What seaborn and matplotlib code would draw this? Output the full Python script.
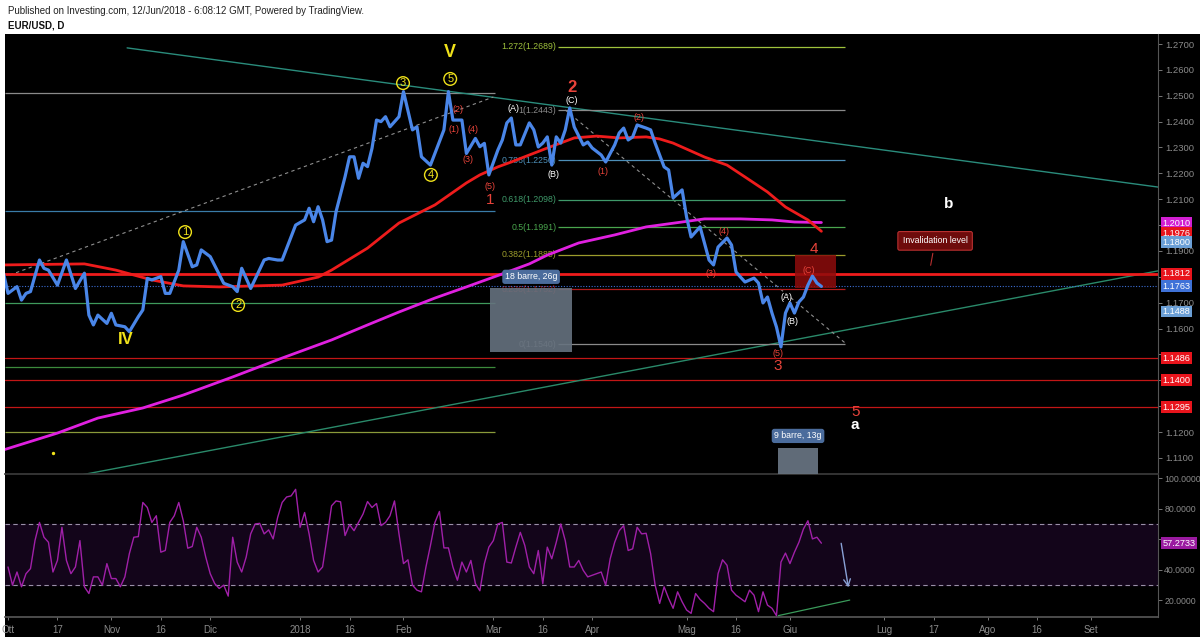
import numpy as np
import pandas as pd
import matplotlib
matplotlib.use("Agg")
import matplotlib.pyplot as plt
import matplotlib.transforms as mtrans
from matplotlib.patches import Rectangle
import seaborn as sns

sns.set_theme(style="dark")
plt.rcParams['font.family'] = ['Liberation Sans', 'DejaVu Sans']

# ---------------- data (bar index 0 = 2 Oct 2017, daily bars) ----------------
price_bar = [-1, 0, 2, 3, 4, 5, 7, 8, 9, 11, 13, 15, 17, 18, 19, 20, 22, 23, 24, 26, 27, 29, 30,
             31, 32, 34, 35, 36, 38, 39, 41, 42, 43, 45, 48, 50, 51, 52, 54, 57, 58, 60, 61, 64,
             66, 67, 68, 69, 70, 71, 72, 73, 75, 76, 77, 78, 79, 80, 81, 82, 83, 84, 85, 87, 88,
             90, 91, 92, 94, 97, 98, 99, 101, 102, 104, 105, 106, 107, 109, 110, 111, 112, 113,
             114, 116, 117, 118, 119, 120, 121, 122, 123, 124, 125, 126, 128, 129, 130, 132, 133,
             135, 136, 137, 138, 139, 140, 142, 143, 144, 146, 147, 148, 150, 151, 152, 154, 156,
             157, 158, 160, 161, 162, 163, 164, 166, 167, 168, 169, 170, 171, 172, 173, 174, 175,
             176, 177, 178, 179, 180, 181]
price_close = [1.1814, 1.1736, 1.1762, 1.1710, 1.1736, 1.1743, 1.1865, 1.1833, 1.1826, 1.1768,
               1.1865, 1.1755, 1.1814, 1.1652, 1.1614, 1.1652, 1.1620, 1.1659, 1.1614, 1.1607,
               1.1588, 1.1646, 1.1672, 1.1794, 1.1788, 1.1801, 1.1736, 1.1736, 1.1826, 1.1936,
               1.1839, 1.1846, 1.1904, 1.1878, 1.1775, 1.1762, 1.1743, 1.1833, 1.1755, 1.1865,
               1.1871, 1.1865, 1.1865, 1.2000, 1.2020, 1.2065, 1.2013, 1.2071, 1.2020, 1.1936,
               1.1942, 1.2052, 1.2187, 1.2264, 1.2264, 1.2181, 1.2239, 1.2226, 1.2297, 1.2406,
               1.2400, 1.2419, 1.2380, 1.2419, 1.2516, 1.2368, 1.2380, 1.2264, 1.2232, 1.2368,
               1.2516, 1.2406, 1.2406, 1.2277, 1.2335, 1.2303, 1.2316, 1.2194, 1.2290, 1.2329,
               1.2395, 1.2414, 1.2310, 1.2310, 1.2395, 1.2368, 1.2302, 1.2317, 1.2341, 1.2232,
               1.2341, 1.2317, 1.2368, 1.2453, 1.2379, 1.2310, 1.2321, 1.2298, 1.2271, 1.2244,
               1.2310, 1.2356, 1.2375, 1.2329, 1.2341, 1.2387, 1.2375, 1.2368, 1.2317, 1.2225,
               1.2213, 1.2105, 1.2136, 1.2031, 1.1954, 1.1993, 1.1865, 1.1846, 1.1915, 1.1950,
               1.1923, 1.1819, 1.1799, 1.1780, 1.1795, 1.1776, 1.1699, 1.1722, 1.1660, 1.1606,
               1.1529, 1.1660, 1.1699, 1.1660, 1.1703, 1.1722, 1.1768, 1.1803, 1.1776, 1.1763]

ma100_bar = [-1, 17, 24, 32, 39, 47, 61, 69, 72, 80, 87, 95, 102, 105, 109, 112, 120, 126, 131,
             136, 142, 145, 148, 155, 160, 164, 169, 173, 178, 181]
ma100 = [1.1846, 1.1850, 1.1826, 1.1788, 1.1765, 1.1761, 1.1768, 1.1799, 1.1826, 1.1911, 1.2008,
         1.2078, 1.2163, 1.2194, 1.2225, 1.2244, 1.2298, 1.2337, 1.2344, 1.2337, 1.2341, 1.2333,
         1.2317, 1.2263, 1.2232, 1.2186, 1.2128, 1.2070, 1.2020, 1.1976]

ma200_bar = [-1, 11, 20, 30, 39, 50, 61, 72, 80, 87, 95, 102, 109, 116, 120, 127, 135, 142, 150,
             155, 163, 170, 175, 181]
ma200 = [1.1131, 1.1196, 1.1254, 1.1293, 1.1343, 1.1413, 1.1486, 1.1556, 1.1614, 1.1664, 1.1718,
         1.1761, 1.1805, 1.1850, 1.1884, 1.1931, 1.1962, 1.1993, 1.2012, 1.2024, 1.2024, 1.2020,
         1.2012, 1.2010]

rsi_bar = list(range(0, 130)) + list(range(132, 182))
rsi_vals = [41.7, 29.8, 38.4, 28.7, 37.3, 40.6, 59.0, 70.9, 61.2, 57.9, 38.4, 46.0, 67.7, 46.0,
            37.3, 41.7, 59.0, 28.7, 24.3, 35.2, 35.2, 29.8, 43.9, 34.1, 34.1, 28.7, 35.2, 50.4,
            61.2, 61.6, 84.0, 80.7, 70.9, 75.3, 51.4, 52.5, 70.9, 75.3, 84.0, 72.0, 54.0, 55.1,
            67.7, 61.2, 48.2, 37.3, 30.8, 27.6, 29.8, 22.6, 61.2, 44.9, 38.4, 48.2, 63.4, 69.9,
            70.3, 63.4, 66.0, 60.1, 74.2, 84.0, 87.6, 88.3, 92.6, 67.7, 77.4, 63.4, 46.0, 38.4,
            41.7, 61.2, 81.8, 85.0, 84.4, 62.3, 69.4, 65.5, 70.9, 76.4, 84.6, 80.7, 83.3, 68.8,
            70.9, 75.3, 85.0, 63.4, 43.9, 46.4, 29.8, 26.5, 25.4, 41.7, 55.8, 70.9, 78.1, 54.2,
            54.2, 41.7, 33.0, 44.9, 38.4, 46.0, 30.8, 26.1, 43.9, 54.7, 59.0, 69.9, 70.9, 44.9,
            44.3, 54.7, 64.4, 55.8, 41.7, 37.3, 52.5, 30.8, 54.7, 47.1, 57.9, 69.9, 59.0, 41.7,
            41.7, 46.0, 39.5, 35.2,
            38.4, 29.8, 47.1, 57.9, 65.5, 68.8, 52.5, 53.6, 67.7, 63.4, 63.8, 50.4, 29.8, 17.8,
            28.7, 21.1, 14.6, 25.4, 18.9, 13.5, 11.3, 24.3, 20.4, 17.8, 14.6, 12.4, 37.3, 46.4,
            42.8, 26.5, 23.2, 21.1, 18.9, 26.5, 23.2, 12.4, 25.4, 16.7, 14.6, 9.8, 44.9, 50.8,
            43.9, 51.4, 57.9, 66.6, 72.0, 60.1, 61.2, 57.3]

tick_bars = [0, 11, 23, 34, 45, 65, 76, 88, 108, 119, 130, 151, 162, 174, 195, 206, 218, 229, 241]
tick_labels = ["Ott", "17", "Nov", "16", "Dic", "2018", "16", "Feb", "Mar", "16", "Apr", "Mag",
               "16", "Giu", "Lug", "17", "Ago", "16", "Set"]

price_ticks = [1.11, 1.12, 1.13, 1.14, 1.15, 1.16, 1.17, 1.18, 1.19, 1.20, 1.21, 1.22, 1.23,
               1.24, 1.25, 1.26, 1.27]
# labels hidden behind price tags in the original are left blank
price_tick_labels = ["1.1100", "1.1200", "", "", "", "1.1600", "1.1700", "", "1.1900", "",
                     "1.2100", "1.2200", "1.2300", "1.2400", "1.2500", "1.2600", "1.2700"]
rsi_ticks = [20, 40, 60, 80, 100]
rsi_tick_labels = ["20.0000", "40.0000", "", "80.0000", "100.0000"]

fib_ratios = ["1.272", "1", "0.786", "0.618", "0.5", "0.382", "0.236", "0"]
fib_prices = [1.2689, 1.2443, 1.2250, 1.2098, 1.1991, 1.1885, 1.1752, 1.1540]
fib_colors = ["#9fc23c", "#8a8a8a", "#4d8fb8", "#3f9a6a", "#4aa64e", "#9c9c2c", "#b01c1c", "#8a8a8a"]

left_levels = [1.2510, 1.2054, 1.1699, 1.1451, 1.1200]
left_colors = ["#8a8a8a", "#3a7ca8", "#3f9a5c", "#3c8a3c", "#8a9a3a"]
red_levels = [1.1486, 1.1400, 1.1295]
invalidation = 1.1812
last_price = 1.1763
rsi_last = 57.2733

XMIN, XMAX = -0.67, 255.9
PMIN, PMAX = 1.10378, 1.27387
RMIN, RMAX = 8.9, 102.0

BLUE = "#4a86e8"
RED = "#ee1c1c"
MAG = "#e020e0"
YEL = "#f0e21a"
SRED = "#e8433a"

fig = plt.figure(figsize=(12, 6.4), dpi=100, facecolor="white")
fig.patches.append(Rectangle((5 / 1200, 3 / 640), 1195 / 1200, 603 / 640,
                             transform=fig.transFigure, facecolor="black", edgecolor="none",
                             zorder=-10))
fig.text(8 / 1200, 1 - 11 / 640, "Published on Investing.com, 12/Jun/2018 - 6:08:12 GMT, Powered by TradingView.",
         fontsize=7, color="#222222", va="center", ha="left")
fig.text(8 / 1200, 1 - 26 / 640, "EUR/USD, D", fontsize=7, color="#111111", va="center",
         ha="left", fontweight="bold")

ax = fig.add_axes([5 / 1200, 1 - 474 / 640, 1153 / 1200, 440 / 640])
axr = fig.add_axes([5 / 1200, 1 - 617 / 640, 1153 / 1200, 142 / 640])

for a in (ax, axr):
    a.set_facecolor("black")
    a.set_xlim(XMIN, XMAX)
    a.grid(False)
    for s in a.spines.values():
        s.set_visible(False)
    a.spines["right"].set_visible(True)
    a.spines["right"].set_color("#555555")
    a.spines["right"].set_linewidth(0.8)
    a.yaxis.tick_right()
    a.tick_params(axis="y", colors="#8a8a8a", labelsize=6.8, length=3, width=0.6, pad=2,
                  direction="out", right=True, left=False)
axr.tick_params(axis="y", labelsize=6.3, pad=1.5)
ax.spines["bottom"].set_visible(True)
ax.spines["bottom"].set_color("#3a3a3a")
axr.spines["bottom"].set_visible(True)
axr.spines["bottom"].set_color("#555555")

ax.set_ylim(PMIN, PMAX)
axr.set_ylim(RMIN, RMAX)

# ---------------- price pane ----------------
for lv, c in zip(left_levels, left_colors):
    ax.hlines(lv, XMIN, 108.4, color=c, lw=0.9, zorder=1)
for lv in red_levels:
    ax.axhline(lv, color="#c21616", lw=0.9, zorder=1)
ax.axhline(invalidation, color=RED, lw=2.0, zorder=2)
ax.axhline(last_price, color="#3d6fd6", lw=0.8, ls=(0, (1, 1.5)), zorder=2)

ax.plot([26.5, 255.9], [1.2685, 1.2147], color="#2a8c7c", lw=1.0, zorder=1)
ax.plot([15.0, 255.9], [1.1030, 1.1823], color="#2a8a6a", lw=1.0, zorder=1)
ax.plot([0.4, 108.0], [1.1807, 1.2495], color="#8f8f8f", lw=0.8, ls=(0, (3, 3)), zorder=1)
ax.plot([124.0, 186.3], [1.2445, 1.1544], color="#8f8f8f", lw=0.8, ls=(0, (3, 3)), zorder=1)

for r, p, c in zip(fib_ratios, fib_prices, fib_colors):
    ax.hlines(p, 122.4, 186.2, color=c, lw=0.9, zorder=1)
    ax.text(122.0, p, f"{r}({p:.4f})", color=c, fontsize=6.3, ha="right", va="center", zorder=1)

ax.add_patch(Rectangle((107.3, 1.1509), 18.2, 1.1757 - 1.1509, facecolor="#66727f",
                       edgecolor="none", alpha=0.9, zorder=3))
ax.text(116.4, 1.1800, "18 barre, 26g", color="white", fontsize=6.3, ha="center", va="center",
        zorder=6, bbox=dict(boxstyle="round,pad=0.3,rounding_size=0.3", fc="#4b6c9c", ec="none"))
ax.add_patch(Rectangle((171.3, PMIN), 8.9, 1.1138 - PMIN, facecolor="#66727f",
                       edgecolor="none", alpha=0.95, zorder=3))
ax.text(175.8, 1.1185, "9 barre, 13g", color="white", fontsize=6.3, ha="center", va="center",
        zorder=6, bbox=dict(boxstyle="round,pad=0.3,rounding_size=0.3", fc="#4b6c9c", ec="none"))
ax.add_patch(Rectangle((175.1, 1.1757), 9.1, 1.1885 - 1.1757, facecolor="#8e0c0c",
                       edgecolor="none", alpha=0.85, zorder=3))

sns.lineplot(x=ma200_bar, y=ma200, ax=ax, color=MAG, lw=2.0, zorder=4, legend=False)
sns.lineplot(x=ma100_bar, y=ma100, ax=ax, color=RED, lw=2.0, zorder=4, legend=False)
sns.lineplot(x=price_bar, y=price_close, ax=ax, color=BLUE, lw=2.3, zorder=5, legend=False)

def lab(x, y, s, c, size=6.5, bold=False):
    ax.text(x, y, s, color=c, fontsize=size, ha="center", va="center",
            fontweight="bold" if bold else "normal", zorder=7)

def circ(x, y, s):
    ax.text(x, y, s, color=YEL, fontsize=8, ha="center", va="center", zorder=7,
            bbox=dict(boxstyle="circle,pad=0.12", fc="none", ec=YEL, lw=1.0))

lab(98.4, 1.2669, "V", YEL, 13, True)
lab(26.3, 1.1556, "IV", YEL, 12, True)
circ(87.9, 1.2549, "3")
circ(98.4, 1.2565, "5")
circ(94.1, 1.2194, "4")
circ(39.4, 1.1973, "1")
circ(51.2, 1.1691, "2")
lab(100.1, 1.2445, "(2)", SRED)
lab(99.2, 1.2368, "(1)", SRED)
lab(103.5, 1.2368, "(4)", SRED)
lab(102.4, 1.2252, "(3)", SRED)
lab(107.3, 1.2151, "(5)", SRED)
lab(107.3, 1.2097, "1", SRED, 11)
lab(112.4, 1.2449, "(A)", "white")
lab(125.5, 1.2480, "(C)", "white")
lab(125.5, 1.2530, "2", SRED, 12, True)
lab(121.3, 1.2197, "(B)", "white")
lab(132.4, 1.2209, "(1)", SRED)
lab(140.4, 1.2414, "(2)", SRED)
lab(159.3, 1.1977, "(4)", SRED)
lab(156.4, 1.1811, "(3)", SRED)
lab(173.3, 1.1722, "(A)", "white")
lab(174.5, 1.1629, "(B)", "white")
lab(178.2, 1.1823, "(C)", SRED)
lab(179.4, 1.1908, "4", SRED, 11)
lab(171.3, 1.1502, "(5)", SRED)
lab(171.3, 1.1455, "3", SRED, 11)
lab(188.5, 1.1278, "5", SRED, 11)
lab(188.5, 1.1227, "a", "white", 11, True)
lab(209.2, 1.2082, "b", "white", 11, True)
ax.scatter([10], [1.1119], s=2, color=YEL, zorder=6)

ax.annotate("Invalidation level", xy=(205.2, 1.1834), xytext=(206.3, 1.1939),
            color="white", fontsize=6.3, ha="center", va="center", zorder=8,
            bbox=dict(boxstyle="round,pad=0.55,rounding_size=0.2", fc="#6e0b0b", ec="#b83030", lw=0.8),
            arrowprops=dict(arrowstyle="-", color="#b83030", lw=0.8))

ax.set_yticks(price_ticks)
ax.set_yticklabels(price_tick_labels)
ax.set_xticks([])
btr = mtrans.blended_transform_factory(ax.transAxes, ax.transData)

def tag(a, tr, y, s, c):
    a.text(1.004, y, s, transform=tr, color="white", fontsize=6.6, ha="left", va="center",
           clip_on=False, zorder=20, bbox=dict(boxstyle="square,pad=0.16", fc=c, ec="none"))

tag(ax, btr, 1.2008, "1.2010", "#d21fd2")
tag(ax, btr, 1.1969, "1.1976", "#e8141c")
tag(ax, btr, 1.1933, "1.1800", "#6b9fd6")
tag(ax, btr, invalidation, "1.1812", "#e8141c")
tag(ax, btr, last_price, "1.1763", "#3f72d8")
tag(ax, btr, 1.1666, "1.1488", "#6b9fd6")
for lv in red_levels:
    tag(ax, btr, lv, f"{lv:.4f}", "#e8141c")

# ---------------- RSI pane ----------------
axr.axhspan(30, 70, color="#13051a", zorder=0)
axr.axhline(70, color="#9a90a8", lw=0.8, ls=(0, (4, 3)), zorder=1)
axr.axhline(30, color="#9a90a8", lw=0.8, ls=(0, (4, 3)), zorder=1)
sns.lineplot(x=rsi_bar, y=rsi_vals, ax=axr, color="#a020a8", lw=1.0, zorder=3, legend=False)
axr.plot([171.4, 187.3], [9.8, 20.0], color="#3a9a5a", lw=0.9, zorder=3)
axr.annotate("", xy=(187.1, 26.5), xytext=(185.3, 59.0),
             arrowprops=dict(arrowstyle="->", color="#8aa2d6", lw=1.0), zorder=4)
axr.set_yticks(rsi_ticks)
axr.set_yticklabels(rsi_tick_labels)
rtr = mtrans.blended_transform_factory(axr.transAxes, axr.transData)
tag(axr, rtr, rsi_last, f"{rsi_last:.4f}", "#9a1aa0")

axr.set_xticks(tick_bars)
axr.set_xticklabels(tick_labels)
axr.tick_params(axis="x", colors="#8a8a8a", labelsize=7, length=2.5, width=0.6, pad=3,
                bottom=True, direction="out")
axr.set_xlabel("")
axr.set_ylabel("")
ax.set_xlabel("")
ax.set_ylabel("")

fig.savefig("out.png", dpi=100, facecolor="white")
